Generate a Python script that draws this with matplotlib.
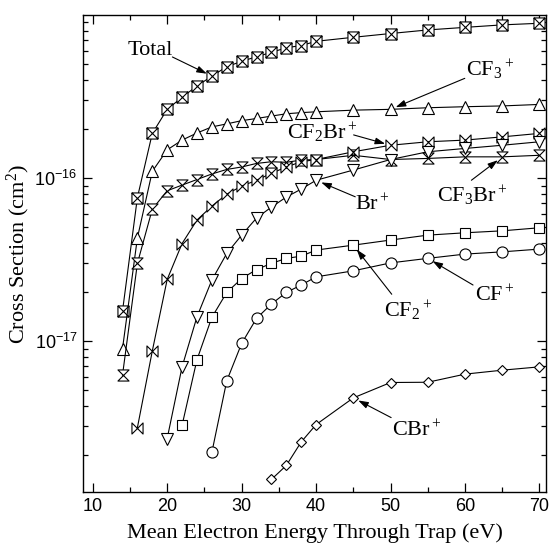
import numpy as np
import matplotlib
matplotlib.use("Agg")
import matplotlib.pyplot as plt
from matplotlib.path import Path
from matplotlib.ticker import FixedLocator, LogLocator, FuncFormatter, NullFormatter

plt.rcParams["font.family"] = "Liberation Serif"
plt.rcParams["mathtext.fontset"] = "custom"
plt.rcParams["mathtext.rm"] = "Liberation Serif"
plt.rcParams["mathtext.it"] = "Liberation Serif:italic"
plt.rcParams["mathtext.sf"] = "Liberation Sans"

# ── data (cross sections in cm^2) ────────────────────────────────────────────
e_total  = [14, 16, 18, 20, 22, 24, 26, 28, 30, 32, 34, 36, 38, 40, 45, 50, 55, 60, 65, 70]
total    = [1.53e-17, 7.6e-17, 1.88e-16, 2.64e-16, 3.13e-16, 3.67e-16, 4.22e-16, 4.82e-16,
            5.2e-16, 5.55e-16, 5.9e-16, 6.3e-16, 6.5e-16, 6.9e-16, 7.3e-16, 7.7e-16,
            8.1e-16, 8.4e-16, 8.7e-16, 8.9e-16]
cf3      = [9.0e-18, 4.3e-17, 1.1e-16, 1.49e-16, 1.71e-16, 1.89e-16, 2.06e-16, 2.15e-16,
            2.25e-16, 2.32e-16, 2.4e-16, 2.48e-16, 2.52e-16, 2.55e-16, 2.61e-16, 2.64e-16,
            2.7e-16, 2.74e-16, 2.77e-16, 2.83e-16]
cf3br    = [6.2e-18, 3.0e-17, 6.45e-17, 8.36e-17, 9.06e-17, 9.8e-17, 1.06e-16, 1.13e-16,
            1.17e-16, 1.23e-16, 1.26e-16, 1.25e-16, 1.29e-16, 1.30e-16, 1.38e-16, 1.30e-16,
            1.32e-16, 1.35e-16, 1.35e-16, 1.38e-16]

e_cf2br  = [16, 18, 20, 22, 24, 26, 28, 30, 32, 34, 36, 38, 40, 45, 50, 55, 60, 65, 70]
cf2br    = [2.95e-18, 8.7e-18, 2.39e-17, 3.97e-17, 5.53e-17, 6.73e-17, 7.97e-17, 8.93e-17,
            9.7e-17, 1.07e-16, 1.17e-16, 1.26e-16, 1.30e-16, 1.45e-16, 1.59e-16, 1.67e-16,
            1.71e-16, 1.79e-16, 1.88e-16]

e_br     = [20, 22, 24, 26, 28, 30, 32, 34, 36, 38, 40, 45, 50, 55, 60, 65, 70]
br       = [2.53e-18, 6.96e-18, 1.41e-17, 2.37e-17, 3.45e-17, 4.47e-17, 5.69e-17, 6.64e-17,
            7.65e-17, 8.56e-17, 9.7e-17, 1.12e-16, 1.30e-16, 1.45e-16, 1.52e-16, 1.59e-16,
            1.67e-16]

e_cf2    = [22, 24, 26, 28, 30, 32, 34, 36, 38, 40, 45, 50, 55, 60, 65, 70]
cf2      = [3.05e-18, 7.7e-18, 1.4e-17, 1.99e-17, 2.42e-17, 2.75e-17, 3.0e-17, 3.22e-17,
            3.32e-17, 3.62e-17, 3.88e-17, 4.17e-17, 4.47e-17, 4.62e-17, 4.75e-17, 4.96e-17]

e_cf     = [26, 28, 30, 32, 34, 36, 38, 40, 45, 50, 55, 60, 65, 70]
cf       = [2.08e-18, 5.71e-18, 9.68e-18, 1.38e-17, 1.69e-17, 1.99e-17, 2.21e-17, 2.48e-17,
            2.7e-17, 3.02e-17, 3.22e-17, 3.42e-17, 3.53e-17, 3.67e-17]

e_cbr    = [34, 36, 38, 40, 45, 50, 55, 60, 65, 70]
cbr      = [1.42e-18, 1.73e-18, 2.41e-18, 3.08e-18, 4.49e-18, 5.58e-18, 5.6e-18, 6.28e-18,
            6.64e-18, 6.96e-18]

# ── custom markers ───────────────────────────────────────────────────────────
M, L, C = Path.MOVETO, Path.LINETO, Path.CLOSEPOLY
box_x = Path([(-1, -1), (1, -1), (1, 1), (-1, 1), (-1, -1), (-1, -1), (1, 1), (-1, 1), (1, -1)],
             [M, L, L, L, C, M, L, M, L])
bowtie = Path([(-1, 1), (-1, -1), (1, 1), (1, -1), (-1, 1)], [M, L, L, L, C])
hourglass = Path([(-1, 1), (1, 1), (-1, -1), (1, -1), (-1, 1)], [M, L, L, L, C])

series = [
    (e_total, total, box_x, 8),
    (e_total, cf3, "^", 8),
    (e_total, cf3br, hourglass, 8),
    (e_cf2br, cf2br, bowtie, 8),
    (e_br, br, "v", 8),
    (e_cf2, cf2, "s", 7.5),
    (e_cf, cf, "o", 8),
    (e_cbr, cbr, "D", 5.5),
]

fig = plt.figure(figsize=(5.5, 5.46), dpi=100)
ax = fig.add_axes([0.151, 0.099, 0.842, 0.8735])

for xs, ys, mk, ms in series:
    ax.plot(xs, ys, color="black", lw=0.8, marker=mk, ms=ms, mfc="white",
            mec="black", mew=0.8)

ax.set_yscale("log")
ax.set_xlim(8.7, 70.9)
ax.set_ylim(1.19e-18, 1.0e-15)

ax.xaxis.set_major_locator(FixedLocator([10, 20, 30, 40, 50, 60, 70]))
ax.xaxis.set_minor_locator(FixedLocator([15, 25, 35, 45, 55, 65]))
ax.yaxis.set_major_locator(FixedLocator([1e-17, 1e-16]))
ax.yaxis.set_minor_locator(LogLocator(base=10, subs=np.arange(2, 10), numticks=20))
ax.yaxis.set_major_formatter(FuncFormatter(
    lambda v, p: r"$\mathsf{10^{%d}}$" % round(np.log10(v))))
ax.yaxis.set_minor_formatter(NullFormatter())

ax.tick_params(which="both", direction="in", top=True, right=True,
               labelsize=13, labelfontfamily="Liberation Sans", width=0.9)
ax.tick_params(which="major", length=6.5, pad=4)
ax.tick_params(which="minor", length=3.6)
for s in ax.spines.values():
    s.set_linewidth(1.0)

ax.set_xlabel("Mean Electron Energy Through Trap (eV)", fontsize=16, labelpad=6)
ax.set_ylabel("Cross Section (cm$^2$)", fontsize=16, labelpad=2)

# ── labels with arrows: (text, text pos, arrow tail, arrow head) ────────────
labels = [
    ("Total", (14.68, 5.69e-16), (20.70, 5.53e-16), (26, 4.22e-16)),
    ("CF$_3$$^+$", (60.19, 4.22e-16), (59.97, 4.09e-16), (50, 2.64e-16)),
    ("CF$_2$Br$^+$", (36.12, 1.73e-16), (45.04, 1.84e-16), (50, 1.59e-16)),
    ("Br$^+$", (45.26, 6.36e-17), (45.26, 7.68e-17), (40, 9.7e-17)),
    ("CF$_3$Br$^+$", (56.18, 7.06e-17), (60.86, 9.7e-17), (65, 1.35e-16)),
    ("CF$_2$$^+$", (49.18, 1.40e-17), (50.16, 1.94e-17), (45, 3.88e-17)),
    ("CF$^+$", (61.31, 1.74e-17), (61.08, 2.21e-17), (55, 3.22e-17)),
    ("CBr$^+$", (50.16, 2.61e-18), (50.08, 3.40e-18), (45, 4.49e-18)),
]
for txt, tpos, tail, head in labels:
    ax.text(tpos[0], tpos[1], txt, fontsize=16, ha="left", va="baseline")
    ax.annotate("", xy=head, xytext=tail,
                arrowprops=dict(arrowstyle="-|>,head_length=0.6,head_width=0.2",
                                color="black", lw=0.8, shrinkA=0, shrinkB=4))

fig.savefig("out.png", dpi=100)
